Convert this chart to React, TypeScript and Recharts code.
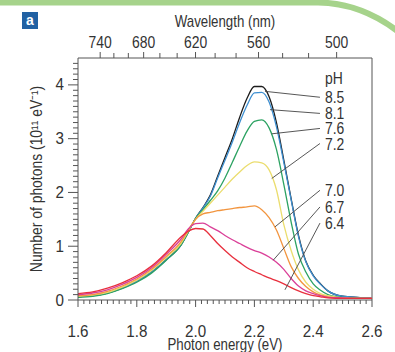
import { LineChart, Line, XAxis, YAxis, ReferenceLine, ReferenceDot } from 'recharts';

// photon energy (eV) sample points
const energy = [
  1.6, 1.65, 1.7, 1.75, 1.8, 1.85, 1.9, 1.95, 1.975, 2.0, 2.025, 2.05, 2.075, 2.1, 2.125, 2.15,
  2.175, 2.2, 2.225, 2.25, 2.275, 2.3, 2.325, 2.35, 2.375, 2.4, 2.425, 2.45, 2.5, 2.55, 2.6,
];

// number of photons (10^11 eV^-1), one array per pH
const ph85 = [0.06, 0.08, 0.13, 0.22, 0.35, 0.52, 0.75, 1.02, 1.26, 1.52, 1.72, 1.95, 2.3, 2.65, 3.0, 3.4, 3.75, 3.97, 3.97, 3.78, 3.3, 2.6, 1.88, 1.2, 0.72, 0.46, 0.3, 0.17, 0.07, 0.05, 0.04];
const ph81 = [0.06, 0.08, 0.13, 0.22, 0.35, 0.52, 0.75, 1.02, 1.26, 1.52, 1.71, 1.93, 2.27, 2.6, 2.94, 3.3, 3.62, 3.85, 3.86, 3.68, 3.22, 2.56, 1.86, 1.18, 0.71, 0.45, 0.29, 0.17, 0.07, 0.05, 0.04];
const ph76 = [0.05, 0.07, 0.12, 0.21, 0.33, 0.5, 0.74, 1.02, 1.26, 1.52, 1.68, 1.85, 2.03, 2.27, 2.56, 2.86, 3.14, 3.32, 3.35, 3.2, 2.8, 2.15, 1.45, 0.85, 0.52, 0.3, 0.18, 0.1, 0.05, 0.04, 0.03];
const ph72 = [0.07, 0.09, 0.14, 0.24, 0.37, 0.55, 0.79, 1.05, 1.28, 1.5, 1.65, 1.8, 1.95, 2.1, 2.25, 2.38, 2.5, 2.57, 2.55, 2.42, 2.05, 1.4, 0.92, 0.56, 0.33, 0.2, 0.12, 0.08, 0.04, 0.03, 0.03];
const ph70 = [0.08, 0.1, 0.16, 0.26, 0.39, 0.57, 0.81, 1.08, 1.3, 1.5, 1.6, 1.63, 1.66, 1.68, 1.7, 1.72, 1.73, 1.75, 1.68, 1.53, 1.3, 0.96, 0.62, 0.4, 0.25, 0.15, 0.09, 0.06, 0.04, 0.03, 0.03];
const ph67 = [0.1, 0.13, 0.19, 0.29, 0.42, 0.6, 0.85, 1.13, 1.32, 1.42, 1.43, 1.36, 1.29, 1.2, 1.12, 1.05, 0.98, 0.92, 0.87, 0.8, 0.7, 0.57, 0.4, 0.26, 0.17, 0.12, 0.08, 0.05, 0.04, 0.03, 0.03];
const ph64 = [0.12, 0.15, 0.22, 0.32, 0.45, 0.63, 0.88, 1.17, 1.28, 1.33, 1.32, 1.2, 1.05, 0.92, 0.8, 0.7, 0.6, 0.53, 0.47, 0.41, 0.36, 0.3, 0.23, 0.17, 0.12, 0.08, 0.06, 0.04, 0.03, 0.03, 0.03];

const energyMajor = [1.6, 1.8, 2.0, 2.2, 2.4, 2.6];
const countMajor = [0, 1, 2, 3, 4];
const wavelengthTicks = [740, 720, 700, 680, 660, 640, 620, 600, 580, 560, 540, 520, 500];
const wavelengthLabels = [740, 680, 620, 560, 500];

// pH annotations: label, label y, point on curve where the leader line ends
const phNames = ['8.5', '8.1', '7.6', '7.2', '7.0', '6.7', '6.4'];
const phLabelY = [3.77, 3.47, 3.19, 2.91, 2.04, 1.73, 1.43];
const phAnchorX = [2.236, 2.253, 2.259, 2.259, 2.27, 2.264, 2.304];
const phAnchorY = [3.88, 3.54, 3.09, 2.26, 1.36, 0.74, 0.19];

const HC = 1239.84;
const FONT = "'Liberation Sans', Arial, sans-serif";
const AXIS = '#555';
const TEXT = '#333';

const series = [
  { key: 'ph85', values: ph85, color: '#1c1c1c' },
  { key: 'ph81', values: ph81, color: '#3d8fd1' },
  { key: 'ph76', values: ph76, color: '#2ca262' },
  { key: 'ph72', values: ph72, color: '#ebdd6e' },
  { key: 'ph70', values: ph70, color: '#f2953f' },
  { key: 'ph67', values: ph67, color: '#da3f98' },
  { key: 'ph64', values: ph64, color: '#e8303e' },
];

const data = energy.map((e, i) => {
  const row: Record<string, number> = { e };
  series.forEach(s => (row[s.key] = s.values[i]));
  return row;
});

const minorEnergy = Array.from({ length: 51 }, (_, i) => +(1.6 + i * 0.02).toFixed(2));
const minorCount = Array.from({ length: 45 }, (_, i) => +(i * 0.1).toFixed(1));
const topTicks = wavelengthTicks.map(w => HC / w);

const near = (list: number[], v: number) => list.some(m => Math.abs(m - v) < 1e-6);

// text squeezed horizontally to mimic the condensed face of the original
function CText({ x, y, anchor = 'middle', size = 16, angle = 0, sx = 0.83, children }: any) {
  return (
    <text
      transform={`translate(${x} ${y}) rotate(${angle}) scale(${sx} 1)`}
      textAnchor={anchor}
      fontSize={size}
      fontFamily={FONT}
      fill={TEXT}
    >
      {children}
    </text>
  );
}

function BottomTick({ x, y, payload }: any) {
  const major = near(energyMajor, payload.value);
  return (
    <g>
      <line x1={x} y1={y} x2={x} y2={y + (major ? 7 : 4)} stroke={AXIS} />
      {major && (
        <CText x={x} y={y + 37} sx={0.95}>
          {payload.value.toFixed(1)}
        </CText>
      )}
    </g>
  );
}

function TopTick({ x, y, payload }: any) {
  const nm = Math.round(HC / payload.value);
  const major = wavelengthLabels.includes(nm);
  return (
    <g>
      <line x1={x} y1={y} x2={x} y2={y - (major ? 6 : 5)} stroke={AXIS} />
      {major && (
        <CText x={x} y={y - 10} sx={0.87}>
          {nm}
        </CText>
      )}
    </g>
  );
}

function LeftTick({ x, y, payload }: any) {
  const major = near(countMajor, payload.value);
  return (
    <g>
      <line x1={x} y1={y} x2={x - (major ? 10 : 5)} y2={y} stroke={AXIS} />
      {major && (
        <CText x={x - 14} y={y + 5.5} anchor="end" sx={0.95}>
          {payload.value}
        </CText>
      )}
    </g>
  );
}

const phLabel = (text: string) => (p: any) => {
  const vb = p.viewBox || {};
  return (
    <CText x={vb.x + 5} y={vb.y + 6} anchor="start" size={17} sx={0.82}>
      {text}
    </CText>
  );
};

export default function App() {
  return (
    <div style={{ position: 'absolute', left: 0, top: 0, width: 395, height: 352, background: '#fff' }}>
      <LineChart width={395} height={352} data={data} margin={{ top: 0, right: 23, bottom: 0, left: 0 }}>
        <XAxis
          dataKey="e"
          type="number"
          domain={[1.6, 2.6]}
          allowDataOverflow
          ticks={minorEnergy}
          interval={0}
          height={52}
          tickSize={0}
          tickMargin={0}
          tickLine={false}
          tick={BottomTick}
          axisLine={{ stroke: AXIS }}
          label={{
            content: (p: any) => (
              <CText x={p.viewBox.x + p.viewBox.width / 2} y={p.viewBox.y + 50}>
                Photon energy (eV)
              </CText>
            ),
          }}
        />
        <XAxis
          xAxisId="top"
          dataKey="e"
          orientation="top"
          type="number"
          domain={[1.6, 2.6]}
          allowDataOverflow
          ticks={topTicks}
          interval={0}
          height={58}
          tickSize={0}
          tickMargin={0}
          tickLine={false}
          tick={TopTick}
          axisLine={{ stroke: AXIS }}
          label={{
            content: (p: any) => (
              <CText x={p.viewBox.x + p.viewBox.width / 2} y={p.viewBox.y + 27}>
                Wavelength (nm)
              </CText>
            ),
          }}
        />
        <YAxis
          type="number"
          domain={[0, 4.5]}
          allowDataOverflow
          ticks={minorCount}
          interval={0}
          width={78}
          tickSize={0}
          tickMargin={0}
          tickLine={false}
          tick={LeftTick}
          axisLine={{ stroke: AXIS }}
          label={{
            content: (p: any) => (
              <CText x={42} y={p.viewBox.y + p.viewBox.height / 2} angle={-90} sx={0.87}>
                Number of photons (10¹¹ eV⁻¹)
              </CText>
            ),
          }}
        />
        <ReferenceLine x={2.6} stroke={AXIS} />
        {series.map(s => (
          <Line
            key={s.key}
            dataKey={s.key}
            type="monotone"
            stroke={s.color}
            strokeWidth={1.3}
            dot={false}
            isAnimationActive={false}
          />
        ))}
        {phNames.map((name, i) => (
          <ReferenceLine
            key={'l' + name}
            segment={[
              { x: phAnchorX[i], y: phAnchorY[i] },
              { x: 2.423, y: phLabelY[i] },
            ]}
            stroke="#444"
            strokeWidth={0.9}
          />
        ))}
        {phNames.map((name, i) => (
          <ReferenceDot
            key={'d' + name}
            x={2.423}
            y={phLabelY[i]}
            r={0}
            fill="none"
            stroke="none"
            label={{ content: phLabel(name) }}
          />
        ))}
        <ReferenceDot x={2.423} y={4.13} r={0} fill="none" stroke="none" label={{ content: phLabel('pH') }} />
      </LineChart>
      <svg width={395} height={352} style={{ position: 'absolute', left: 0, top: 0, pointerEvents: 'none' }}>
        <path d="M -5 2.5 L 318 2.5 Q 362 3 400 33" fill="none" stroke="#a6d38b" strokeWidth={6} />
        <rect x={22} y={12} width={16} height={17} fill="#2161a3" />
        <text x={30} y={25} textAnchor="middle" fill="#fff" fontSize={14} fontWeight="bold" fontFamily={FONT}>
          a
        </text>
      </svg>
    </div>
  );
}
